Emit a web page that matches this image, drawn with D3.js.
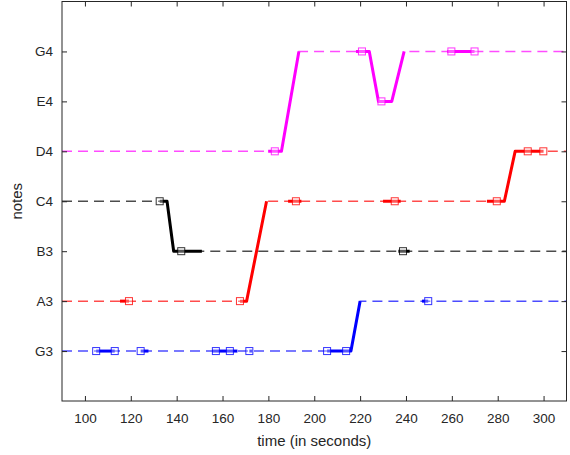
<!DOCTYPE html>
<html>
<head>
<meta charset="utf-8">
<script src="https://cdn.jsdelivr.net/npm/d3@7"></script>
<style>
  body { margin: 0; background: #fff; }
  text { font-family: "Liberation Sans", Arial, sans-serif; fill: #262626; }
</style>
</head>
<body>
<div id="chart"></div>
<script>
//note names on the y axis (ordinal index 1..7)
const noteNames = ["G3", "A3", "B3", "C4", "D4", "E4", "G4"];
const timeTicks = [100, 120, 140, 160, 180, 200, 220, 240, 260, 280, 300];

//blue voice
const blueTrack = [[90, 1], [216, 1], [220, 2], [310, 2]];
const blueThick = [[104.9, 113], [124.3, 127.7], [155.5, 166.5], [171.7, 173], [205.6, 220], [247, 249.7]];
const blueMarks = [104.9, 113, 124.3, 157.1, 163.2, 171.7, 205.6, 213.9, 249.7];

//red voice
const redTrack = [[90, 2], [170.5, 2], [179.2, 4], [282.9, 4], [287.6, 5], [310, 5]];
const redThick = [[115.3, 119.2], [167.6, 179.2], [188.6, 194.4], [230, 237.7], [275.3, 300]];
const redMarks = [119.2, 167.6, 192, 235.1, 279.6, 293.1, 299.9];

//black voice
const blackTrack = [[90, 4], [135.8, 4], [138.7, 3], [310, 3]];
const blackThick = [[132.6, 151], [236.7, 241.6]];
const blackMarks = [132.6, 142, 238.7];

//magenta voice
const magTrack = [[90, 5], [185.7, 5], [193.3, 7], [224, 7], [228, 6], [233.8, 6], [239.2, 7], [310, 7]];
const magThick = [[179.9, 193.3], [218.2, 239.2], [258, 269.9]];
const magMarks = [182.8, 220.8, 229.3, 259.8, 269.9];

const voices = [
  {color: "#0000ff", track: blueTrack, thick: blueThick, marks: blueMarks},
  {color: "#ff0000", track: redTrack, thick: redThick, marks: redMarks},
  {color: "#000000", track: blackTrack, thick: blackThick, marks: blackMarks},
  {color: "#ff00ff", track: magTrack, thick: magThick, marks: magMarks}
];

const width = 570, height = 455;
const margin = {top: 1.5, right: 3.5, bottom: 54, left: 62};
const w = width - margin.left - margin.right;
const h = height - margin.top - margin.bottom;

let svg = d3.select("#chart").append("svg")
            .attr("width", width)
            .attr("height", height)
            .append("g")
            .attr("transform", `translate(${margin.left},${margin.top})`);

let x = d3.scaleLinear().domain([90, 310]).range([0, w]);
let y = d3.scaleLinear().domain([0, 8]).range([h, 0]);

//value of a track at time t (piecewise linear)
function valueAt(track, t) {
  for (let i = 1; i < track.length; i++) {
    let a = track[i - 1], b = track[i];
    if (t <= b[0]) return a[1] + (b[1] - a[1]) * (t - a[0]) / (b[0] - a[0]);
  }
  return track[track.length - 1][1];
}

//piece of a track between t0 and t1
function piece(track, t0, t1) {
  let pts = [[t0, valueAt(track, t0)]];
  track.forEach(function(p) { if (p[0] > t0 && p[0] < t1) pts.push(p); });
  pts.push([t1, valueAt(track, t1)]);
  return pts;
}

let line = d3.line().x(function(d) { return x(d[0]) }).y(function(d) { return y(d[1]) });

//clip so nothing leaves the box
svg.append("clipPath").attr("id", "clip")
   .append("rect").attr("width", w).attr("height", h);
let plot = svg.append("g").attr("clip-path", "url(#clip)");

voices.forEach(function(v) {
  //thin dashed track
  plot.append("path")
      .attr("d", line(v.track))
      .attr("fill", "none")
      .attr("stroke", v.color)
      .attr("stroke-opacity", 0.7)
      .attr("stroke-width", 1.5)
      .attr("stroke-dasharray", "10,6");

  //thick solid parts
  v.thick.forEach(function(s) {
    plot.append("path")
        .attr("d", line(piece(v.track, s[0], s[1])))
        .attr("fill", "none")
        .attr("stroke", v.color)
        .attr("stroke-width", 3)
        .attr("stroke-linejoin", "round");
  });

  //square markers
  plot.selectAll(null).data(v.marks).enter()
      .append("rect")
      .attr("x", function(d) { return x(d) - 3.5 })
      .attr("y", function(d) { return y(valueAt(v.track, d)) - 3.5 })
      .attr("width", 7)
      .attr("height", 7)
      .attr("fill", "#fff")
      .attr("fill-opacity", 0.35)
      .attr("stroke", v.color)
      .attr("stroke-opacity", 0.8)
      .attr("stroke-width", 1);
});

//axes (ticks pointing inward, box all round)
svg.append("g")
   .attr("transform", `translate(0,${h})`)
   .call(d3.axisBottom(x).tickValues(timeTicks).tickSize(-5).tickPadding(12));
svg.append("g").call(d3.axisTop(x).tickValues(timeTicks).tickSize(-5).tickFormat(""));
svg.append("g")
   .call(d3.axisLeft(y).tickValues(d3.range(1, 8)).tickSize(-5).tickPadding(9)
           .tickFormat(function(d) { return noteNames[d - 1] }));
svg.append("g").attr("transform", `translate(${w},0)`)
   .call(d3.axisRight(y).tickValues(d3.range(1, 8)).tickSize(-5).tickFormat(""));

svg.selectAll(".domain").remove();
svg.selectAll(".tick line").attr("stroke", "#262626");
svg.selectAll(".tick text").style("font-size", "13.5px").attr("fill", "#262626");

svg.append("rect")
   .attr("width", w).attr("height", h)
   .attr("fill", "none")
   .attr("stroke", "#262626")
   .attr("stroke-width", 1);

//axis labels
svg.append("text")
   .attr("transform", `translate(${w / 2},${h + 45})`)
   .style("text-anchor", "middle")
   .style("font-size", "15px")
   .text("time (in seconds)");

svg.append("text")
   .attr("transform", `translate(-40,${h / 2}) rotate(-90)`)
   .style("text-anchor", "middle")
   .style("font-size", "15px")
   .text("notes");
</script>
</body>
</html>
